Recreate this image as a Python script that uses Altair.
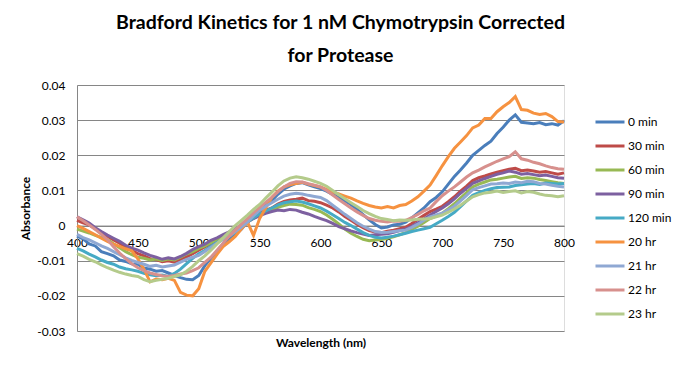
import altair as alt
import pandas as pd

wavelengths = list(range(400, 801, 5))

series_names = ["0 min", "30 min", "60 min", "90 min", "120 min", "20 hr", "21 hr", "22 hr", "23 hr"]
series_colors = ["#4A7EBB", "#BE4B48", "#98B954", "#7D60A0", "#46AAC5", "#F69240", "#8FA8D3", "#D7908D", "#B4CB8B"]

s_0min = [
    -0.0030, -0.0038, -0.0052, -0.0058, -0.0074, -0.0080, -0.0086, -0.0098, -0.0102, -0.0109,
    -0.0110, -0.0121, -0.0124, -0.0130, -0.0128, -0.0135, -0.0142, -0.0148, -0.0153, -0.0154,
    -0.0142, -0.0114, -0.0093, -0.0075, -0.0054, -0.0041, -0.0026, -0.0010, 0.0010, 0.0026,
    0.0042, 0.0056, 0.0071, 0.0089, 0.0104, 0.0113, 0.0120, 0.0122, 0.0116, 0.0110,
    0.0105, 0.0098, 0.0089, 0.0080, 0.0070, 0.0060, 0.0046, 0.0031, 0.0016, 0.0003,
    -0.0007, -0.0004, 0.0002, 0.0004, 0.0010, 0.0022, 0.0036, 0.0050, 0.0068, 0.0080,
    0.0096, 0.0118, 0.0140, 0.0158, 0.0178, 0.0200, 0.0214, 0.0228, 0.0240, 0.0262,
    0.0280, 0.0300, 0.0315, 0.0294, 0.0292, 0.0290, 0.0293, 0.0287, 0.0290, 0.0286,
    0.0298,
]
s_30min = [
    0.0015, 0.0008, 0.0002, -0.0009, -0.0020, -0.0030, -0.0041, -0.0050, -0.0062, -0.0071,
    -0.0080, -0.0086, -0.0094, -0.0097, -0.0103, -0.0100, -0.0104, -0.0096, -0.0089, -0.0080,
    -0.0070, -0.0061, -0.0052, -0.0043, -0.0034, -0.0025, -0.0012, 0.0001, 0.0015, 0.0024,
    0.0034, 0.0043, 0.0050, 0.0061, 0.0069, 0.0073, 0.0075, 0.0078, 0.0071, 0.0069,
    0.0065, 0.0058, 0.0050, 0.0039, 0.0026, 0.0015, 0.0004, -0.0006, -0.0014, -0.0018,
    -0.0020, -0.0016, -0.0013, -0.0009, -0.0005, 0.0006, 0.0018, 0.0029, 0.0040, 0.0047,
    0.0055, 0.0068, 0.0082, 0.0098, 0.0112, 0.0128, 0.0136, 0.0141, 0.0147, 0.0152,
    0.0156, 0.0160, 0.0163, 0.0156, 0.0158, 0.0155, 0.0152, 0.0154, 0.0150, 0.0146,
    0.0150,
]
s_60min = [
    -0.0010, -0.0016, -0.0021, -0.0028, -0.0034, -0.0040, -0.0052, -0.0063, -0.0074, -0.0083,
    -0.0090, -0.0093, -0.0098, -0.0095, -0.0099, -0.0095, -0.0098, -0.0090, -0.0081, -0.0074,
    -0.0065, -0.0058, -0.0049, -0.0040, -0.0032, -0.0025, -0.0013, -0.0002, 0.0010, 0.0021,
    0.0030, 0.0038, 0.0045, 0.0052, 0.0057, 0.0061, 0.0060, 0.0058, 0.0051, 0.0046,
    0.0040, 0.0030, 0.0018, 0.0005, -0.0010, -0.0022, -0.0031, -0.0039, -0.0043, -0.0041,
    -0.0040, -0.0036, -0.0032, -0.0026, -0.0020, -0.0011, -0.0002, 0.0009, 0.0020, 0.0027,
    0.0035, 0.0048, 0.0062, 0.0078, 0.0094, 0.0110, 0.0118, 0.0124, 0.0130, 0.0132,
    0.0135, 0.0138, 0.0140, 0.0134, 0.0136, 0.0135, 0.0131, 0.0128, 0.0125, 0.0122,
    0.0120,
]
s_90min = [
    0.0025, 0.0016, 0.0007, -0.0006, -0.0017, -0.0027, -0.0036, -0.0045, -0.0056, -0.0064,
    -0.0070, -0.0078, -0.0085, -0.0090, -0.0096, -0.0092, -0.0095, -0.0088, -0.0079, -0.0068,
    -0.0060, -0.0053, -0.0042, -0.0035, -0.0026, -0.0018, -0.0010, 0.0001, 0.0010, 0.0020,
    0.0028, 0.0035, 0.0040, 0.0044, 0.0042, 0.0046, 0.0044, 0.0038, 0.0033, 0.0026,
    0.0020, 0.0014, 0.0006, -0.0003, -0.0009, -0.0015, -0.0020, -0.0024, -0.0028, -0.0026,
    -0.0025, -0.0023, -0.0019, -0.0014, -0.0010, -0.0002, 0.0008, 0.0019, 0.0030, 0.0040,
    0.0050, 0.0062, 0.0076, 0.0092, 0.0106, 0.0120, 0.0127, 0.0134, 0.0140, 0.0146,
    0.0150, 0.0155, 0.0152, 0.0146, 0.0148, 0.0145, 0.0142, 0.0144, 0.0140, 0.0136,
    0.0135,
]
s_120min = [
    -0.0065, -0.0072, -0.0081, -0.0089, -0.0098, -0.0105, -0.0110, -0.0118, -0.0123, -0.0126,
    -0.0130, -0.0136, -0.0140, -0.0143, -0.0141, -0.0145, -0.0136, -0.0124, -0.0108, -0.0093,
    -0.0080, -0.0071, -0.0059, -0.0048, -0.0039, -0.0030, -0.0019, -0.0005, 0.0010, 0.0022,
    0.0033, 0.0042, 0.0050, 0.0059, 0.0065, 0.0068, 0.0070, 0.0067, 0.0062, 0.0056,
    0.0050, 0.0041, 0.0031, 0.0020, 0.0009, 0.0000, -0.0010, -0.0020, -0.0028, -0.0033,
    -0.0035, -0.0033, -0.0030, -0.0026, -0.0022, -0.0017, -0.0013, -0.0009, -0.0005, 0.0005,
    0.0015, 0.0026, 0.0038, 0.0054, 0.0070, 0.0086, 0.0094, 0.0100, 0.0105, 0.0108,
    0.0109, 0.0110, 0.0114, 0.0116, 0.0118, 0.0120, 0.0117, 0.0121, 0.0120, 0.0118,
    0.0120,
]
s_20hr = [
    0.0000, -0.0008, -0.0017, -0.0026, -0.0036, -0.0045, -0.0053, -0.0059, -0.0066, -0.0072,
    -0.0095, -0.0124, -0.0160, -0.0152, -0.0154, -0.0150, -0.0156, -0.0190, -0.0198, -0.0200,
    -0.0180, -0.0130, -0.0106, -0.0082, -0.0060, -0.0046, -0.0031, -0.0010, 0.0010, -0.0028,
    0.0020, 0.0050, 0.0080, 0.0098, 0.0110, 0.0116, 0.0120, 0.0123, 0.0118, 0.0114,
    0.0110, 0.0103, 0.0096, 0.0090, 0.0084, 0.0078, 0.0070, 0.0063, 0.0057, 0.0053,
    0.0050, 0.0054, 0.0050, 0.0057, 0.0060, 0.0070, 0.0082, 0.0098, 0.0115, 0.0142,
    0.0170, 0.0196, 0.0220, 0.0238, 0.0256, 0.0278, 0.0286, 0.0305, 0.0305, 0.0324,
    0.0338, 0.0350, 0.0367, 0.0330, 0.0328, 0.0320, 0.0316, 0.0319, 0.0310, 0.0296,
    0.0295,
]
s_21hr = [
    -0.0025, -0.0034, -0.0041, -0.0049, -0.0058, -0.0065, -0.0074, -0.0083, -0.0092, -0.0099,
    -0.0105, -0.0110, -0.0116, -0.0113, -0.0118, -0.0115, -0.0112, -0.0104, -0.0096, -0.0090,
    -0.0085, -0.0074, -0.0062, -0.0050, -0.0039, -0.0030, -0.0017, -0.0004, 0.0010, 0.0028,
    0.0043, 0.0055, 0.0065, 0.0075, 0.0084, 0.0089, 0.0092, 0.0090, 0.0086, 0.0083,
    0.0080, 0.0071, 0.0058, 0.0045, 0.0032, 0.0020, 0.0008, -0.0002, -0.0010, -0.0017,
    -0.0020, -0.0019, -0.0017, -0.0015, -0.0013, -0.0005, 0.0004, 0.0015, 0.0025, 0.0030,
    0.0035, 0.0045, 0.0055, 0.0070, 0.0086, 0.0102, 0.0108, 0.0113, 0.0118, 0.0119,
    0.0121, 0.0120, 0.0124, 0.0122, 0.0126, 0.0125, 0.0120, 0.0118, 0.0115, 0.0112,
    0.0110,
]
s_22hr = [
    0.0025, 0.0014, 0.0002, -0.0011, -0.0025, -0.0040, -0.0060, -0.0078, -0.0094, -0.0109,
    -0.0120, -0.0128, -0.0135, -0.0139, -0.0143, -0.0145, -0.0142, -0.0138, -0.0135, -0.0128,
    -0.0120, -0.0105, -0.0090, -0.0070, -0.0050, -0.0030, -0.0013, 0.0004, 0.0020, 0.0036,
    0.0052, 0.0066, 0.0080, 0.0096, 0.0110, 0.0120, 0.0125, 0.0124, 0.0119, 0.0115,
    0.0110, 0.0100, 0.0087, 0.0074, 0.0062, 0.0050, 0.0039, 0.0029, 0.0020, 0.0015,
    0.0012, 0.0010, 0.0013, 0.0012, 0.0015, 0.0023, 0.0032, 0.0042, 0.0050, 0.0068,
    0.0085, 0.0098, 0.0110, 0.0124, 0.0138, 0.0150, 0.0158, 0.0167, 0.0175, 0.0183,
    0.0190, 0.0196, 0.0210, 0.0190, 0.0186, 0.0180, 0.0176, 0.0170, 0.0165, 0.0162,
    0.0160,
]
s_23hr = [
    -0.0080, -0.0087, -0.0096, -0.0103, -0.0112, -0.0120, -0.0127, -0.0133, -0.0138, -0.0142,
    -0.0145, -0.0154, -0.0160, -0.0156, -0.0153, -0.0150, -0.0145, -0.0140, -0.0130, -0.0116,
    -0.0100, -0.0086, -0.0070, -0.0052, -0.0035, -0.0018, 0.0000, 0.0015, 0.0030, 0.0046,
    0.0060, 0.0078, 0.0095, 0.0113, 0.0127, 0.0135, 0.0139, 0.0136, 0.0132, 0.0126,
    0.0120, 0.0112, 0.0100, 0.0088, 0.0076, 0.0065, 0.0054, 0.0043, 0.0034, 0.0026,
    0.0020, 0.0017, 0.0014, 0.0016, 0.0015, 0.0016, 0.0018, 0.0019, 0.0020, 0.0025,
    0.0030, 0.0038, 0.0047, 0.0058, 0.0070, 0.0082, 0.0088, 0.0093, 0.0095, 0.0098,
    0.0094, 0.0097, 0.0099, 0.0093, 0.0097, 0.0095, 0.0090, 0.0086, 0.0085, 0.0082,
    0.0085,
]

x_ticks = [400, 450, 500, 550, 600, 650, 700, 750, 800]
y_ticks = [-0.03, -0.02, -0.01, 0.0, 0.01, 0.02, 0.03, 0.04]

all_series = [s_0min, s_30min, s_60min, s_90min, s_120min, s_20hr, s_21hr, s_22hr, s_23hr]
rows = []
for name, vals in zip(series_names, all_series):
    for wl, v in zip(wavelengths, vals):
        rows.append({"Wavelength": wl, "Absorbance": v, "Series": name})
df = pd.DataFrame(rows)

FONT = "Lato"
GRID = "#868686"
W, H = 487, 246
zero_from_bottom = H * 3.0 / 7.0

chart = alt.Chart(df).mark_line(strokeWidth=3).encode(
    x=alt.X("Wavelength:Q",
            scale=alt.Scale(domain=[400, 800], nice=False, zero=False),
            axis=alt.Axis(values=x_ticks, format="d", grid=False, ticks=False,
                          domainColor=GRID, domainWidth=1, offset=-zero_from_bottom,
                          labelPadding=12, labelFontSize=12, labelFont=FONT, labelColor="black",
                          labelFlush=False, labelOverlap=False, labelBound=False,
                          title="Wavelength (nm)", titleFont=FONT, titleFontSize=12,
                          titleFontWeight="bold", titleColor="black",
                          titleX=W / 2, titleY=zero_from_bottom + 11, titleBaseline="middle",
                          titleAlign="center")),
    y=alt.Y("Absorbance:Q",
            scale=alt.Scale(domain=[-0.03, 0.04], nice=False, zero=False),
            axis=alt.Axis(values=y_ticks, grid=True, gridColor=GRID, gridWidth=1, ticks=False,
                          domainColor=GRID, domainWidth=1,
                          labelExpr="abs(datum.value) < 1e-9 ? '0' : (datum.value < 0 ? '-' + format(-datum.value, '.2f') : format(datum.value, '.2f'))",
                          labelPadding=12, labelFontSize=12, labelFont=FONT, labelColor="black",
                          title="Absorbance", titleFont=FONT, titleFontSize=12,
                          titleFontWeight="bold", titleColor="black",
                          titleX=-52, titleY=H / 2, titleBaseline="middle", titleAlign="center",
                          titleAngle=270)),
    color=alt.Color("Series:N",
                    scale=alt.Scale(domain=series_names, range=series_colors),
                    sort=series_names,
                    legend=alt.Legend(title=None, orient="none", legendX=517, legendY=25,
                                      symbolType="stroke", symbolSize=841, symbolStrokeWidth=3,
                                      labelFont=FONT, labelFontSize=12, labelColor="black",
                                      clipHeight=24, rowPadding=0, labelOffset=2, padding=0)),
).properties(
    width=W,
    height=H,
    padding={"left": 69, "top": 77, "right": 110, "bottom": 28},
    autosize=alt.AutoSizeParams(type="none"),
    title=alt.TitleParams(
        text=["Bradford Kinetics for 1 nM Chymotrypsin Corrected", "for Protease"],
        font=FONT, fontSize=19.5, fontWeight="bold", color="black",
        anchor="middle", dx=20, offset=13, lineHeight=33,
    ),
).configure_view(stroke=None).configure(background="white")

chart.save("out.html", embed_options={"renderer": "svg", "actions": False})
